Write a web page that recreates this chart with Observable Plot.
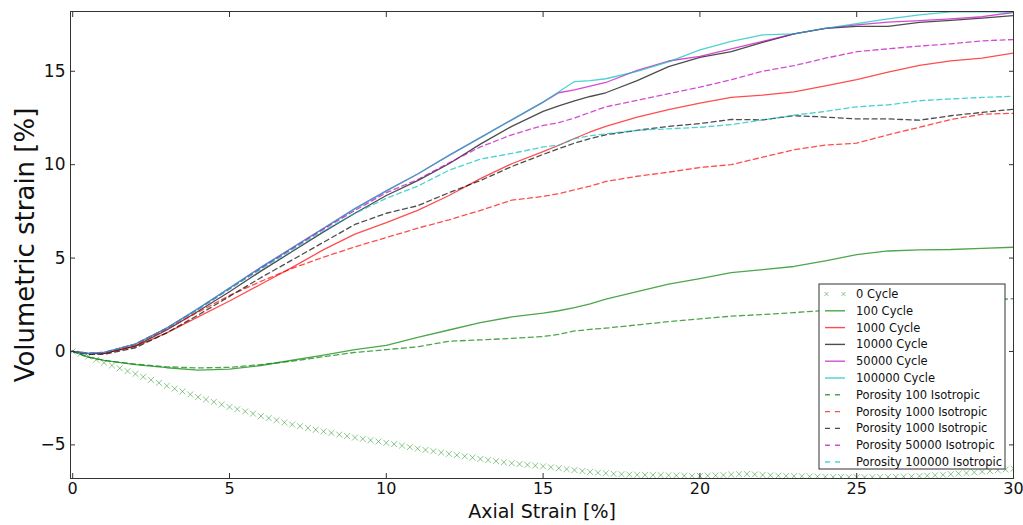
<!DOCTYPE html>
<html><head><meta charset="utf-8">
<script src="https://cdn.jsdelivr.net/npm/d3@7"></script>
<script src="https://cdn.jsdelivr.net/npm/@observablehq/plot@0.6"></script>
<style>
body{margin:0;background:#fff;}
#chart{position:relative;width:1023px;height:525px;}
</style>
</head><body><div id="chart"></div>
<script>
// axial strain grid for the line series
const strain = [0,0.5,1,2,3,4,5,6,7,8,9,10,11,12,13,14,15,15.5,16,16.5,17,18,19,20,21,22,23,24,25,26,27,28,29,30];

const cycle100   = [0,-0.3,-0.48,-0.7,-0.87,-1.0,-0.95,-0.75,-0.47,-0.2,0.1,0.33,0.75,1.15,1.55,1.85,2.05,2.18,2.35,2.55,2.8,3.2,3.6,3.9,4.22,4.38,4.55,4.85,5.18,5.38,5.44,5.46,5.52,5.58];
const cycle1000  = [0,-0.12,-0.1,0.27,1.0,1.85,2.7,3.6,4.5,5.45,6.28,6.9,7.55,8.35,9.25,10.05,10.7,11.04,11.4,11.75,12.05,12.55,12.95,13.3,13.6,13.72,13.9,14.22,14.55,14.95,15.32,15.56,15.7,15.98];
const cycle10000 = [0,-0.12,-0.1,0.3,1.15,2.15,3.2,4.3,5.35,6.4,7.4,8.35,9.15,10.05,11.1,12.05,12.85,13.15,13.42,13.65,13.85,14.5,15.25,15.75,16.05,16.55,17.0,17.3,17.4,17.4,17.62,17.72,17.84,17.98];
const cycle50000 = [0,-0.1,-0.05,0.4,1.25,2.3,3.4,4.5,5.55,6.6,7.65,8.6,9.5,10.5,11.45,12.4,13.35,13.85,14.0,14.2,14.4,15.05,15.55,15.8,16.2,16.6,17.0,17.3,17.48,17.63,17.71,17.8,17.92,18.15];
const cycle100000= [0,-0.1,-0.05,0.4,1.25,2.3,3.4,4.5,5.55,6.6,7.65,8.6,9.5,10.5,11.45,12.4,13.35,13.9,14.45,14.5,14.6,15.0,15.5,16.15,16.6,16.95,17.0,17.3,17.55,17.8,18.02,18.18,18.2,18.15];
const poro100    = [0,-0.3,-0.48,-0.68,-0.82,-0.88,-0.85,-0.7,-0.52,-0.28,-0.05,0.1,0.25,0.55,0.62,0.7,0.8,0.92,1.1,1.18,1.25,1.42,1.6,1.75,1.89,1.98,2.08,2.2,2.3,2.4,2.5,2.6,2.72,2.83];
const poro1000r  = [0,-0.12,-0.1,0.35,1.2,2.1,3.0,3.75,4.45,5.05,5.6,6.1,6.6,7.05,7.55,8.1,8.3,8.45,8.65,8.85,9.1,9.38,9.6,9.85,10.0,10.4,10.8,11.05,11.15,11.6,12.0,12.42,12.7,12.75];
const poro1000k  = [0,-0.15,-0.15,0.2,1.0,1.95,2.95,3.95,4.9,5.85,6.8,7.4,7.8,8.5,9.15,9.9,10.55,10.86,11.15,11.4,11.6,11.84,12.05,12.2,12.42,12.4,12.62,12.55,12.45,12.45,12.38,12.62,12.8,12.97];
const poro50000  = [0,-0.1,-0.05,0.4,1.25,2.25,3.35,4.45,5.5,6.55,7.55,8.5,9.2,10.1,10.95,11.6,12.1,12.25,12.5,12.8,13.1,13.45,13.8,14.15,14.55,15.0,15.3,15.7,16.05,16.2,16.35,16.47,16.63,16.7];
const poro100000 = [0,-0.1,-0.05,0.4,1.25,2.25,3.35,4.4,5.45,6.45,7.4,8.2,8.85,9.7,10.3,10.6,10.95,11.04,11.4,11.55,11.65,11.84,11.92,12.0,12.15,12.4,12.65,12.85,13.1,13.2,13.42,13.52,13.6,13.66];

// 0 Cycle markers, one every 0.25 % of axial strain
const zeroStrain = d3.range(0, 30.001, 0.25);
const cycle0 = [0,-0.12,-0.27,-0.44,-0.6,-0.75,-0.9,-1.05,-1.2,-1.36,-1.52,-1.68,-1.84,-1.99,-2.14,-2.3,-2.44,-2.57,-2.7,-2.84,-2.97,-3.09,-3.21,-3.33,-3.46,-3.57,-3.68,-3.8,-3.91,-4.0,-4.1,-4.19,-4.28,-4.36,-4.45,-4.53,-4.61,-4.68,-4.75,-4.82,-4.89,-4.96,-5.04,-5.12,-5.2,-5.27,-5.34,-5.41,-5.48,-5.55,-5.61,-5.68,-5.75,-5.81,-5.87,-5.93,-5.98,-6.03,-6.07,-6.11,-6.15,-6.2,-6.25,-6.3,-6.35,-6.4,-6.45,-6.49,-6.52,-6.55,-6.57,-6.59,-6.6,-6.61,-6.62,-6.62,-6.63,-6.64,-6.65,-6.66,-6.66,-6.65,-6.64,-6.62,-6.59,-6.57,-6.56,-6.58,-6.61,-6.63,-6.65,-6.66,-6.67,-6.68,-6.69,-6.7,-6.71,-6.72,-6.72,-6.73,-6.73,-6.73,-6.73,-6.72,-6.72,-6.71,-6.7,-6.69,-6.67,-6.65,-6.63,-6.6,-6.57,-6.54,-6.51,-6.47,-6.43,-6.4,-6.36,-6.32,-6.27];

const xTicks = [0,5,10,15,20,25,30];
const yTicks = [-5,0,5,10,15];

const series = [
  {name:"100 Cycle", values:cycle100, color:"#008000", dash:null},
  {name:"1000 Cycle", values:cycle1000, color:"#ff0000", dash:null},
  {name:"10000 Cycle", values:cycle10000, color:"#000000", dash:null},
  {name:"50000 Cycle", values:cycle50000, color:"#bf00bf", dash:null},
  {name:"100000 Cycle", values:cycle100000, color:"#00bfbf", dash:null},
  {name:"Porosity 100 Isotropic", values:poro100, color:"#008000", dash:"5,3.5"},
  {name:"Porosity 1000 Isotropic", values:poro1000r, color:"#ff0000", dash:"5,3.5"},
  {name:"Porosity 1000 Isotropic", values:poro1000k, color:"#000000", dash:"5,3.5"},
  {name:"Porosity 50000 Isotropic", values:poro50000, color:"#bf00bf", dash:"5,3.5"},
  {name:"Porosity 100000 Isotropic", values:poro100000, color:"#00bfbf", dash:"5,3.5"}
];
const markerName = "0 Cycle";
const markerColor = "#008000";

const zeroData = zeroStrain.map((x, i) => ({x, y: cycle0[i]}));

const marks = [
  Plot.dot(zeroData, {x:"x", y:"y", symbol:"times", r:2.8, stroke:markerColor, strokeOpacity:0.45, strokeWidth:1, clip:true})
];
for (const s of series) {
  const data = strain.map((x, i) => ({x, y: s.values[i]}));
  marks.push(Plot.line(data, {x:"x", y:"y", stroke:s.color, strokeOpacity:0.7, strokeWidth:1.3,
    strokeDasharray:s.dash || undefined, clip:true}));
}
marks.push(
  Plot.frame({stroke:"#333", strokeWidth:1}),
  Plot.axisX({ticks:xTicks, tickSize:-5, tickPadding:9.5, fontSize:16, label:null, stroke:"#333"}),
  Plot.axisX({anchor:"top", ticks:xTicks, tickSize:-5, tickFormat:()=>"", label:null, stroke:"#333"}),
  Plot.axisY({ticks:yTicks, tickSize:-5, tickPadding:10, fontSize:17, label:null, stroke:"#333"}),
  Plot.axisY({anchor:"right", ticks:yTicks, tickSize:-5, tickFormat:()=>"", label:null, stroke:"#333"}),
  Plot.text(["Volumetric strain [%]"], {frameAnchor:"left", rotate:-90, dx:-45, fontSize:26, textAnchor:"middle", fill:"#111"}),
  Plot.text(["Axial Strain [%]"], {frameAnchor:"bottom", dy:26, lineAnchor:"top", fontSize:19, textAnchor:"middle", fill:"#111"})
);

const svg = Plot.plot({
  width:1023, height:525,
  marginLeft:70, marginRight:10, marginTop:11, marginBottom:47,
  style:{fontFamily:"DejaVu Sans", background:"#fff", color:"#111"},
  x:{domain:[-0.07,30], label:null},
  y:{domain:[-6.8,18.2], label:null},
  marks
});
document.getElementById("chart").appendChild(svg);

// legend
const entries = [{name:markerName, color:markerColor, marker:true}, ...series];
const lg = d3.select(svg).append("g").attr("font-family","DejaVu Sans").attr("font-size",11.5).attr("text-anchor","start");
lg.append("rect").attr("x",819).attr("y",284).attr("width",186).attr("height",185)
  .attr("fill","#fff").attr("stroke","#333").attr("stroke-width",1);
entries.forEach((e, i) => {
  const yy = 294 + i*16.8;
  if (e.marker) {
    [826.5, 843.5].forEach(cx => {
      lg.append("path").attr("d",`M${cx-2},${yy-2}L${cx+2},${yy+2}M${cx-2},${yy+2}L${cx+2},${yy-2}`)
        .attr("stroke",e.color).attr("stroke-opacity",0.45).attr("stroke-width",1);
    });
  } else {
    lg.append("line").attr("x1",825).attr("x2",845).attr("y1",yy).attr("y2",yy)
      .attr("stroke",e.color).attr("stroke-opacity",0.7).attr("stroke-width",1.4)
      .attr("stroke-dasharray", e.dash ? "5,5" : null);
  }
  lg.append("text").attr("x",856).attr("y",yy).attr("dy","0.35em").attr("text-anchor","start").attr("fill","#111").text(e.name);
});
</script>
</body></html>
